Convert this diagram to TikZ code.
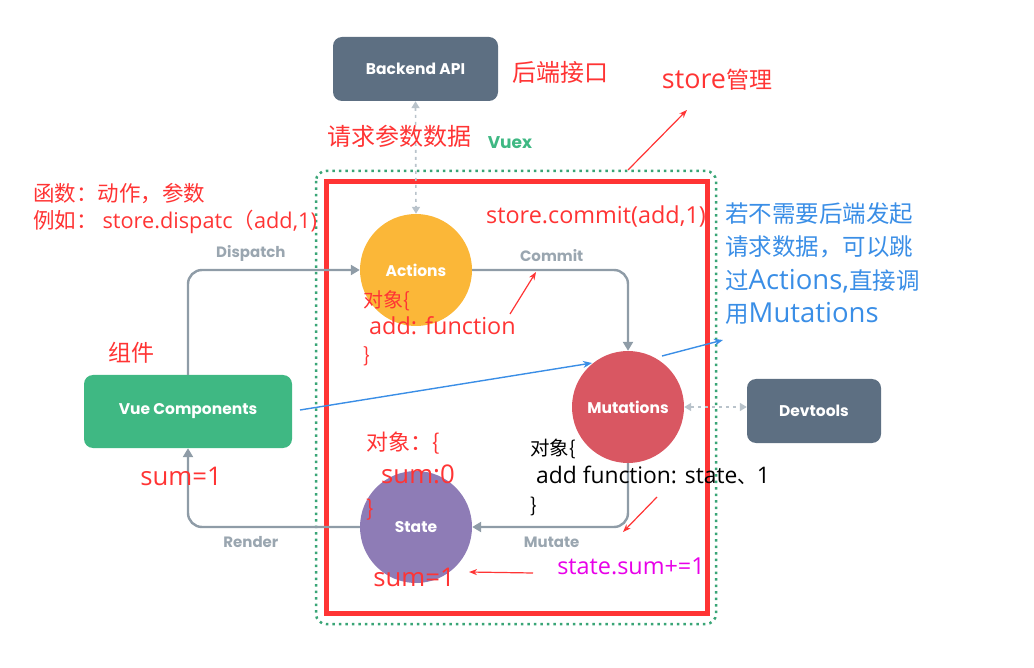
\documentclass[tikz,border=0pt]{standalone}
\usepackage{fontspec}
\setmainfont{Noto Sans CJK SC}
\newfontfamily\vuefont{Poppins}
\newfontfamily\lat[Scale=1.17]{Open Sans}
\newfontfamily\latsm[Scale=1.01]{Open Sans}
\usetikzlibrary{arrows.meta}
\definecolor{slate}{RGB}{93,111,130}
\definecolor{vuegreen}{RGB}{63,184,131}
\definecolor{actcol}{RGB}{251,183,56}
\definecolor{mutcol}{RGB}{217,87,98}
\definecolor{statecol}{RGB}{142,124,182}
\definecolor{flowgray}{RGB}{143,156,167}
\definecolor{lightgray}{RGB}{185,195,203}
\definecolor{notered}{RGB}{255,52,52}
\definecolor{noteblue}{RGB}{58,142,230}
\definecolor{notepink}{RGB}{232,0,232}
\tikzset{
    box/.style={rounded corners=9pt,fill=#1,text=white,minimum width=165pt,minimum height=64pt,font=\vuefont\bfseries\fontsize{15.5}{17}\selectfont},
    ball/.style={circle,fill=#1,text=white,minimum size=112pt,inner sep=0pt,font=\vuefont\bfseries\fontsize{15.5}{17}\selectfont},
    flow/.style={draw=flowgray,line width=2.4pt,rounded corners=14pt,-{Triangle[length=9pt,width=10pt]}},
    devflow/.style={draw=lightgray,line width=1.6pt,dash pattern=on 3pt off 4pt,{Triangle[length=7pt,width=8pt]}-{Triangle[length=7pt,width=8pt]}},
    lbl/.style={text=flowgray!90,font=\vuefont\bfseries\fontsize{15}{16}\selectfont},
    note/.style={text=notered,inner sep=0pt,font=\fontsize{#1}{#1}\selectfont},
    note/.default=21,
    redarrow/.style={notered,line width=1.2pt,-{Stealth[length=8pt,width=6pt]}},
    bluearrow/.style={noteblue,line width=1.4pt,-{Stealth[length=9pt,width=7pt]}},
}
\begin{document}
\begin{tikzpicture}[x=1pt,y=-1pt]
\useasboundingbox (0,0) rectangle (1034,668);
% store frame
\draw[vuegreen!90!black,line width=2.5pt,dash pattern=on 2.5pt off 4pt,rounded corners=10pt] (316,171) rectangle (716,624);
\draw[notered,line width=5pt] (326,182) rectangle (707,613);
% boxes and circles
\node[box=slate] (backend) at (415.5,69) {Backend API};
\node[box=slate,minimum width=134pt] (devtools) at (814,411) {Devtools};
\node[box=vuegreen,minimum width=208pt,minimum height=73pt] (vue) at (188,411.5) {Vue Components};
\node[ball=actcol] (actions) at (416,270) {Actions};
\node[ball=mutcol] (mutations) at (628,407) {Mutations};
\node[ball=statecol] (state) at (416,527) {State};
% flow
\draw[flow] (vue.north) |- (actions.west) node[lbl,pos=0.683,above=4pt] (dispatch) {Dispatch};
\draw[flow] (actions.east) -| (mutations.north) node[lbl,pos=0.255,above=4pt] (commit) {Commit};
\draw[flow] (mutations.south) |- (state.east) node[lbl,pos=0.745,below=5pt] (mutate) {Mutate};
\draw[flow] (state.west) -| (vue.south) node[lbl,pos=0.317,below=5pt] (render) {Render};
\draw[devflow] (backend.south) -- (actions.north);
\draw[devflow] (mutations.east) -- (mutations.east -| devtools.west);
\node[text=vuegreen,font=\vuefont\bfseries\fontsize{17}{20}\selectfont] (vuex) at (510,143) {Vuex};
% notes
\node[note=24] (apinote) at (560,72) {后端接口};
\node[note=23] (storenote) at (717,80) {{\lat store}管理};
\node[note=24] (reqnote) at (399,136) {请求参数数据};
\node[note,anchor=west,align=left,font=\fontsize{21.5}{27}\selectfont] (dispnote) at (33,209) {函数：动作，参数\\例如： {\latsm store.dispatc}（{\latsm add,1)}};
\node[note=21,font=\lat\fontsize{20}{21}\selectfont] (commitnote) at (596,216) {store.commit(add,1)};
\node[note=20,anchor=west,align=left,font=\fontsize{20}{27.5}\selectfont] (actobj) at (363,328) {对象\{\\\hspace{6pt}{\lat add: function}\\\}};
\node[note=23] (compnote) at (131,353) {组件};
\node[note=23,font=\lat\fontsize{22}{24}\selectfont] (sumvue) at (181,476) {sum=1};
\node[note=22,anchor=west,align=left,font=\fontsize{22}{33}\selectfont] (stateobj) at (366,476) {对象：\{\\\hspace{15pt}{\lat sum:0}\\\}};
\node[note=23,font=\lat\fontsize{22}{24}\selectfont] (sumstate) at (414,577) {sum=1};
\node[note=20,text=black,anchor=west,align=left,font=\fontsize{19.5}{28.5}\selectfont] (mutobj) at (530,477) {对象\{\\\hspace{6pt}{\lat add function: state}、{\lat 1}\\\}};
\node[note=21,text=notepink,font=\lat\fontsize{20}{21}\selectfont] (sumplus) at (631,566) {state.sum+=1};
\node[note=23,text=noteblue,anchor=north west,align=left,font=\fontsize{23.5}{33.5}\selectfont] (skipnote) at (725,202) {若不需要后端发起\\请求数据，可以跳\\过{\lat Actions,}直接调\\用{\lat Mutations}};
% annotation arrows
\coordinate (storetip) at (687,110);
\coordinate (storetail) at (628,170);
\coordinate (committip) at (536,272);
\coordinate (committail) at (510,314);
\coordinate (mutatetip) at (623,532);
\coordinate (mutatetail) at (657,497);
\coordinate (sumtip) at (469,572);
\coordinate (sumtail) at (533,573);
\coordinate (vuestart) at (300,410);
\coordinate (muthit) at (592,363);
\coordinate (mutleave) at (662,356);
\coordinate (skiptip) at (723,340);
\draw[redarrow] (storetail) -- (storetip);
\draw[redarrow] (committail) -- (committip);
\draw[redarrow] (mutatetail) -- (mutatetip);
\draw[redarrow] (sumtail) -- (sumtip);
\draw[bluearrow] (vuestart) -- (muthit);
\draw[bluearrow] (mutleave) -- (skiptip);
\end{tikzpicture}
\end{document}
